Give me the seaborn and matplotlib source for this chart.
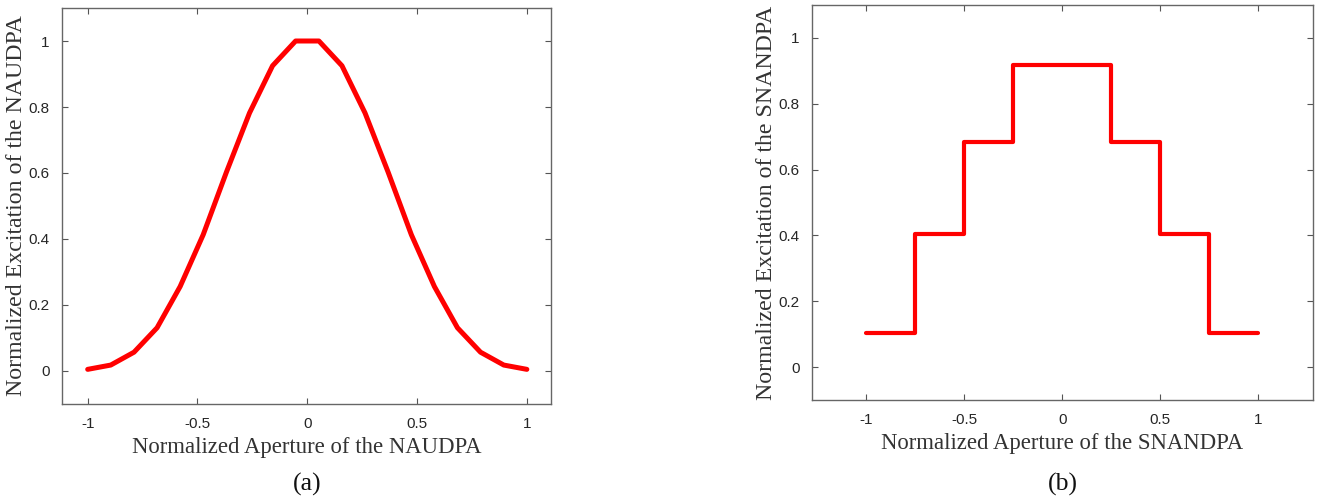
import numpy as np
import pandas as pd
import matplotlib
matplotlib.use("Agg")
import matplotlib.pyplot as plt
import seaborn as sns

# (a) NAUDPA excitation, 20 elements across the aperture
naudpa_x = [-1.0, -0.895, -0.789, -0.684, -0.579, -0.474, -0.368, -0.263, -0.158, -0.053,
            0.053, 0.158, 0.263, 0.368, 0.474, 0.579, 0.684, 0.789, 0.895, 1.0]
naudpa_y = [0.005, 0.018, 0.057, 0.131, 0.256, 0.413, 0.603, 0.782, 0.925, 1.0,
            1.0, 0.925, 0.782, 0.603, 0.413, 0.256, 0.131, 0.057, 0.018, 0.005]

# (b) SNANDPA stepped excitation (value holds from each edge to the next)
snandpa_edges = [-1.0, -0.75, -0.5, -0.25, 0.25, 0.5, 0.75, 1.0]
snandpa_y = [0.105, 0.403, 0.684, 0.918, 0.684, 0.403, 0.105, 0.105]

x_ticks = [-1, -0.5, 0, 0.5, 1]
x_ticklabels = ["-1", "-0.5", "0", "0.5", "1"]
y_ticks = [0, 0.2, 0.4, 0.6, 0.8, 1]
y_ticklabels = ["0", "0.2", "0.4", "0.6", "0.8", "1"]

sns.set_theme(style="white")
plt.rcParams["font.family"] = ["Liberation Sans", "DejaVu Sans"]

fig = plt.figure(figsize=(13.27, 5.01), dpi=100)
ax1 = fig.add_axes([62 / 1327, 1 - 404 / 501, (551 - 62) / 1327, (404 - 8) / 501])
ax2 = fig.add_axes([812 / 1327, 1 - 400 / 501, (1313 - 812) / 1327, (400 - 5) / 501])

df_a = pd.DataFrame({"x": naudpa_x, "y": naudpa_y})
df_b = pd.DataFrame({"x": snandpa_edges, "y": snandpa_y})

sns.lineplot(data=df_a, x="x", y="y", ax=ax1, color="#ff0000", linewidth=3.6)
sns.lineplot(data=df_b, x="x", y="y", ax=ax2, color="#ff0000", linewidth=3.0,
             drawstyle="steps-post")

serif = ["Liberation Serif", "DejaVu Serif"]
setups = [
    (ax1, (-1.117, 1.11), "Normalized Aperture of the NAUDPA",
     "Normalized Excitation of the NAUDPA", "(a)"),
    (ax2, (-1.276, 1.278), "Normalized Aperture of the SNANDPA",
     "Normalized Excitation of the SNANDPA", "(b)"),
]
for ax, xlim, xl, yl, tag in setups:
    ax.set_xlim(*xlim)
    ax.set_ylim(-0.1, 1.1)
    ax.set_xticks(x_ticks)
    ax.set_xticklabels(x_ticklabels)
    ax.set_yticks(y_ticks)
    ax.set_yticklabels(y_ticklabels)
    ax.tick_params(direction="in", length=4.3, width=0.8, color="#555555",
                   labelsize=11, labelcolor="#262626", pad=9,
                   top=True, right=True, bottom=True, left=True)
    for s in ax.spines.values():
        s.set_color("#666666")
        s.set_linewidth(1.0)
    ax.set_xlabel(xl, family=serif, fontsize=16.4, color="#333333", labelpad=5)
    ax.set_ylabel(yl, family=serif, fontsize=17.2, color="#333333", labelpad=1)

# panel tags sit just above the bottom edge of the figure
fig.text(307 / 1327, 1 - 484 / 501, "(a)", ha="center", va="center",
         family=serif, fontsize=18.5, color="#111111")
fig.text(1063 / 1327, 1 - 484 / 501, "(b)", ha="center", va="center",
         family=serif, fontsize=18.5, color="#111111")

fig.savefig("out.png", dpi=100)
